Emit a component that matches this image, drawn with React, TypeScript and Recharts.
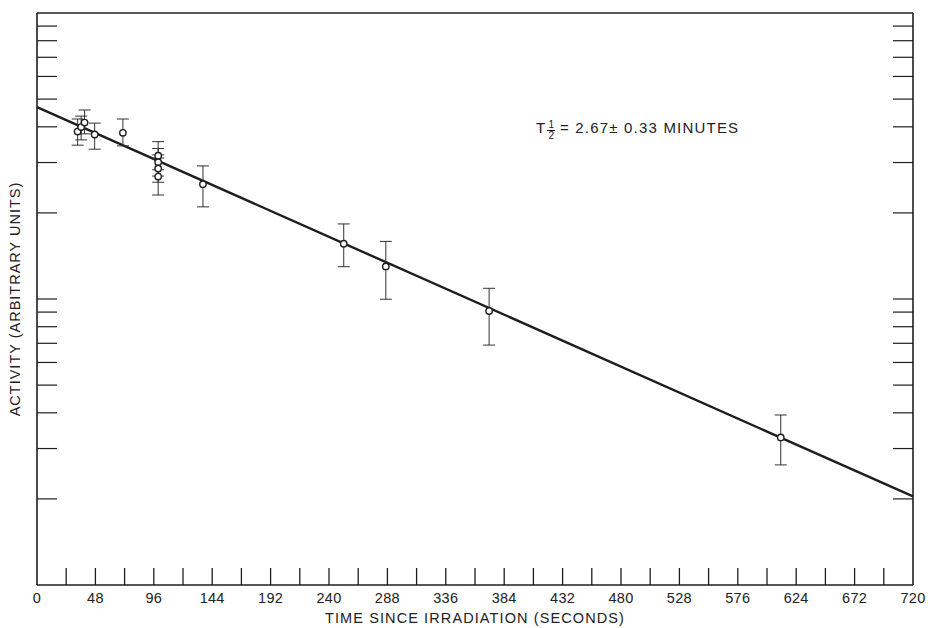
import React from "react";
import {
  ComposedChart,
  Line,
  Scatter,
  ErrorBar,
  XAxis,
  YAxis,
} from "recharts";

// measured points (seconds, arbitrary activity) with error bar ends
const times = [33.4, 36.3, 39.1, 47.4, 70.6, 99.6, 99.6, 99.6, 99.6, 136.4, 252.1, 286.7, 371.6, 611.3];
const activity = [38.5, 39.9, 41.4, 37.6, 38.1, 31.7, 30.1, 28.6, 26.8, 25.2, 15.6, 13.0, 9.08, 3.28];
const errHigh = [42.6, 43.6, 45.8, 41.2, 42.6, 35.5, 33.6, 31.9, 31.1, 29.2, 18.3, 15.9, 10.9, 3.93];
const errLow = [34.5, 36.0, 37.8, 33.4, 34.3, 28.3, 26.9, 25.6, 23.1, 21.0, 12.97, 9.98, 6.9, 2.63];

// fitted decay line, end points
const fitTimes = [0, 720];
const fitActivity = [46.9, 2.04];

const xLabelTicks = [0, 48, 96, 144, 192, 240, 288, 336, 384, 432, 480, 528, 576, 624, 672, 720];
const xMinorTicks = [24, 48, 72, 96, 120, 144, 168, 192, 216, 240, 264, 288, 312, 336, 360, 384, 408, 432, 456, 480, 504, 528, 552, 576, 600, 624, 648, 672, 696];
const yTicks = [2, 3, 4, 5, 6, 7, 8, 9, 10, 20, 30, 40, 50, 60, 70, 80, 90];

const points = times.map((t, i) => ({
  t,
  a: activity[i],
  err: [activity[i] - errLow[i], errHigh[i] - activity[i]],
}));
const fit = fitTimes.map((t, i) => ({ t, a: fitActivity[i] }));

const allXTicks = Array.from(new Set([...xLabelTicks, ...xMinorTicks])).sort((a, b) => a - b);

const ink = "#1e1e1e";
const font = "'Liberation Sans', Arial, sans-serif";

const BottomTick = (props: any) => {
  const { x, y, payload } = props;
  const v = payload.value;
  return (
    <g>
      {v > 0 && v < 720 && (
        <line x1={x} x2={x} y1={y} y2={y - 17} stroke={ink} strokeWidth={1.3} />
      )}
      {v % 48 === 0 && (
        <text x={x} y={y + 18} textAnchor="middle" fontFamily={font} fontSize={14.5} fill="#222" letterSpacing={0.3}>
          {v}
        </text>
      )}
    </g>
  );
};

const TopTick = (props: any) => {
  const { x, y } = props;
  return <line x1={x} x2={x} y1={y} y2={y + 12} stroke={ink} strokeWidth={1.3} />;
};

const LeftTick = (props: any) => {
  const { x, y } = props;
  return <line x1={x} x2={x + 20} y1={y} y2={y} stroke={ink} strokeWidth={1.2} />;
};

const RightTick = (props: any) => {
  const { x, y } = props;
  return <line x1={x} x2={x - 20} y1={y} y2={y} stroke={ink} strokeWidth={1.2} />;
};

const Marker = (props: any) => {
  const { cx, cy } = props;
  return <circle cx={cx} cy={cy} r={3.2} fill="#fff" stroke={ink} strokeWidth={1.4} />;
};

export default function App() {
  return (
    <div style={{ position: "absolute", left: 0, top: 0, width: 928, height: 628, background: "#fff" }}>
      <ComposedChart width={928} height={628} margin={{ top: 0, right: 0, bottom: 0, left: 0 }}>
        <XAxis
          xAxisId="b"
          dataKey="t"
          type="number"
          domain={[0, 720]}
          ticks={allXTicks}
          interval={0}
          height={43}
          tickSize={0}
          tickMargin={0}
          tickLine={false}
          axisLine={{ stroke: ink, strokeWidth: 1.6 }}
          tick={<BottomTick />}
          label={{
            value: "TIME SINCE IRRADIATION (SECONDS)",
            position: "insideBottom",
            offset: 5,
            style: { fontFamily: font, fontSize: 14.5, fill: "#222", letterSpacing: 1.1 },
          }}
        />
        <XAxis
          xAxisId="top"
          orientation="top"
          type="number"
          domain={[0, 720]}
          ticks={xMinorTicks}
          interval={0}
          height={13}
          tickSize={0}
          tickMargin={0}
          tickLine={false}
          axisLine={{ stroke: ink, strokeWidth: 1.4 }}
          tick={<TopTick />}
        />
        <YAxis
          yAxisId="l"
          scale="log"
          type="number"
          domain={[1, 100]}
          allowDataOverflow
          ticks={yTicks}
          interval={0}
          width={37}
          tickSize={0}
          tickMargin={0}
          tickLine={false}
          axisLine={{ stroke: ink, strokeWidth: 1.6 }}
          tick={<LeftTick />}
          label={{
            value: "ACTIVITY (ARBITRARY UNITS)",
            angle: -90,
            position: "insideLeft",
            offset: 15,
            style: { textAnchor: "middle", fontFamily: font, fontSize: 14.5, fill: "#222", letterSpacing: 1 },
          }}
        />
        <YAxis
          yAxisId="r"
          orientation="right"
          scale="log"
          type="number"
          domain={[1, 100]}
          allowDataOverflow
          ticks={yTicks}
          interval={0}
          width={15}
          tickSize={0}
          tickMargin={0}
          tickLine={false}
          axisLine={{ stroke: ink, strokeWidth: 1.6 }}
          tick={<RightTick />}
        />
        <Line
          xAxisId="b"
          yAxisId="l"
          data={fit}
          dataKey="a"
          type="linear"
          stroke={ink}
          strokeWidth={2.4}
          dot={false}
          activeDot={false}
          isAnimationActive={false}
        />
        <Scatter
          xAxisId="b"
          yAxisId="l"
          data={points}
          dataKey="a"
          shape={<Marker />}
          isAnimationActive={false}
        >
          <ErrorBar dataKey="err" direction="y" width={6} stroke="#333" strokeWidth={1} isAnimationActive={false} />
        </Scatter>
      </ComposedChart>
      <div
        style={{
          position: "absolute",
          left: 536,
          top: 113,
          fontFamily: font,
          fontSize: 15,
          color: "#222",
          display: "flex",
          alignItems: "center",
          whiteSpace: "nowrap",
          letterSpacing: 1.2,
        }}
      >
        <span>T</span>
        <span
          style={{
            display: "inline-flex",
            flexDirection: "column",
            alignItems: "center",
            fontSize: 10,
            lineHeight: "10px",
            margin: "7px 5px 0 1px",
            letterSpacing: 0,
          }}
        >
          <span style={{ borderBottom: "1px solid #222", padding: "0 1px" }}>1</span>
          <span>2</span>
        </span>
        <span>= 2.67± 0.33 MINUTES</span>
      </div>
    </div>
  );
}
